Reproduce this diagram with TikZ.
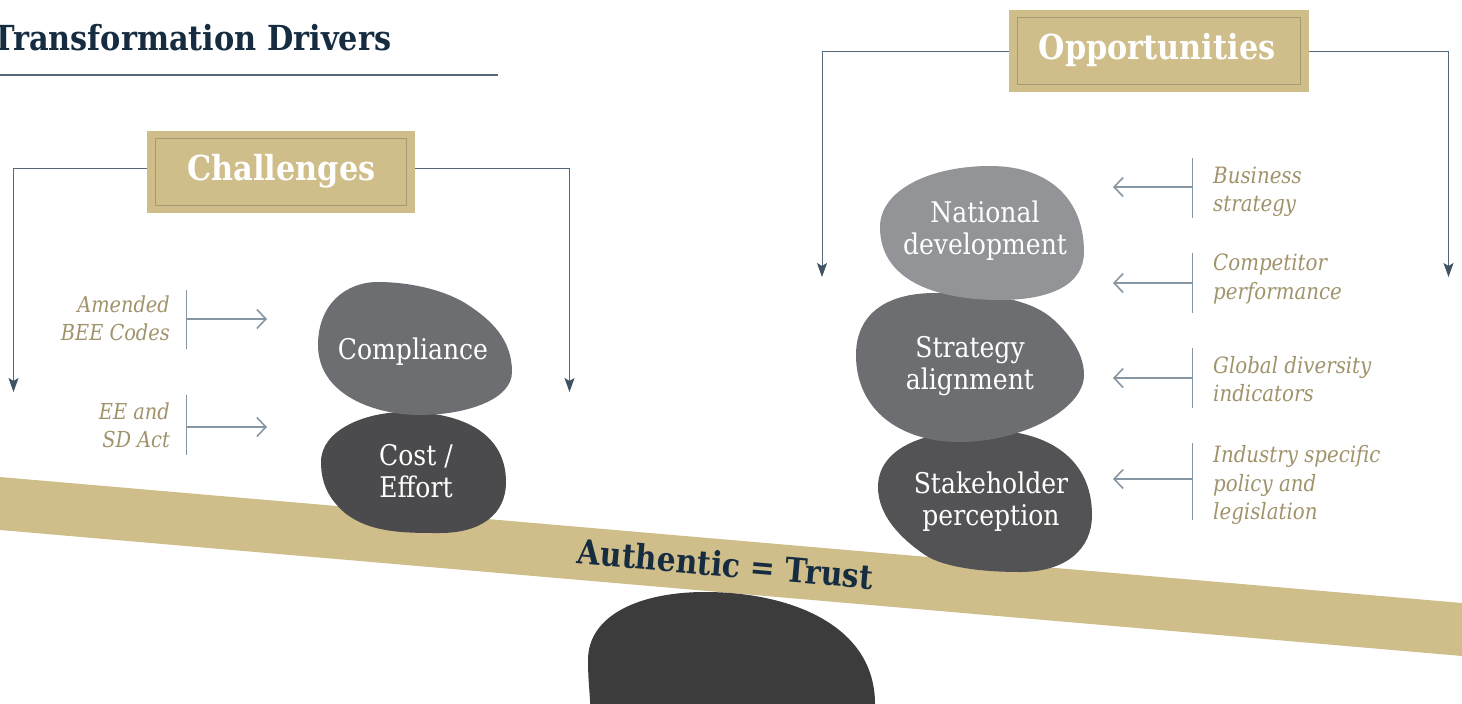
\documentclass[tikz,border=0pt]{standalone}
\usepackage{fontspec}
\setmainfont[FakeStretch=0.88]{DejaVu Serif}
\usetikzlibrary{arrows.meta,calc}
\definecolor{goldtan}{HTML}{CFBD8A}
\definecolor{tanframe}{HTML}{A59A74}
\definecolor{tantext}{HTML}{A0936B}
\definecolor{navy}{HTML}{162C40}
\definecolor{slate}{HTML}{55677A}
\definecolor{arrowtip}{HTML}{3F5363}
\definecolor{steel}{HTML}{8796A3}
\definecolor{rockA}{HTML}{6D6E71}
\definecolor{rockB}{HTML}{4B4B4D}
\definecolor{rockC}{HTML}{929497}
\definecolor{rockD}{HTML}{535355}
\definecolor{rockE}{HTML}{3C3C3C}
\tikzset{
  x=1pt,y=-1pt,
  headfont/.style={font=\fontsize{34.5}{40}\selectfont\bfseries},
  tanbox/.style={fill=goldtan,inner sep=0pt},
  innerframe/.style={draw=tanframe,line width=1pt},
  branch/.style={draw=slate,line width=1pt,-{Stealth[length=14pt,width=10pt,inset=3pt,color=arrowtip]}},
  tickmark/.style={draw=steel,line width=1.6pt},
  pointer/.style={draw=steel,line width=1.8pt,-{Straight Barb[length=9pt,width=19pt,line width=1.6pt]}},
  blobtext/.style={text=white,align=center,font=\fontsize{28.5}{32}\selectfont,inner sep=0pt},
  sideL/.style={text=tantext,align=right,font=\fontsize{22}{28}\selectfont\itshape,inner sep=0pt},
  sideR/.style={text=tantext,align=left,font=\fontsize{22.5}{28.3}\selectfont\itshape,inner sep=0pt},
}
\begin{document}
\begin{tikzpicture}
\useasboundingbox (0,0) rectangle (1462,704);
\clip (0,0) rectangle (1462,704);
% title
\node[anchor=base east,text=navy,headfont,inner sep=0pt] (title) at (391.5,50) {Transformation Drivers};
\coordinate (ruleA) at (0,74.5);
\coordinate (ruleB) at (498,74.5);
\draw[slate,line width=2pt] (ruleA) -- (ruleB);
% beam
\fill[goldtan] (0,477) -- (1462,603) -- (1462,656) -- (0,530) -- cycle;
\node[rotate=-4.93,text=navy,font=\fontsize{33.7}{40}\selectfont\bfseries,inner sep=0pt] (beam) at (725.5,564) {Authentic = Trust};
% base rock
\fill[rockE] (588,660) .. controls (588,615) and (640,592) .. (705,592)
  .. controls (790,592) and (875,625) .. (875,704) -- (875,740) -- (590,740) -- (590,700)
  .. controls (589,685) and (588,675) .. (588,660) -- cycle;
% left stack
\fill[rockB] (321,462) .. controls (321,430) and (365,412) .. (405,412)
  .. controls (465,412) and (506,435) .. (506,482)
  .. controls (506,515) and (480,533) .. (440,533)
  .. controls (405,533) and (370,533) .. (345,513)
  .. controls (330,500) and (321,485) .. (321,462) -- cycle;
\fill[rockA] (318,345) .. controls (318,305) and (345,282) .. (378,282)
  .. controls (405,282) and (440,288) .. (465,303)
  .. controls (492,320) and (512,340) .. (512,372)
  .. controls (512,400) and (465,415) .. (420,415)
  .. controls (375,415) and (318,395) .. (318,345) -- cycle;
% right stack
\fill[rockD] (878,487) .. controls (878,450) and (920,430) .. (985,430)
  .. controls (1050,430) and (1092,460) .. (1092,515)
  .. controls (1092,550) and (1065,572) .. (1020,572)
  .. controls (985,572) and (945,568) .. (925,555)
  .. controls (900,538) and (878,515) .. (878,487) -- cycle;
\fill[rockA] (856,355) .. controls (856,315) and (885,293) .. (935,293)
  .. controls (995,293) and (1032,300) .. (1054,320)
  .. controls (1072,337) and (1084,355) .. (1084,375)
  .. controls (1084,410) and (1020,442) .. (960,442)
  .. controls (900,442) and (856,410) .. (856,355) -- cycle;
\fill[rockC] (880,227) .. controls (880,190) and (930,166) .. (990,166)
  .. controls (1050,166) and (1084,200) .. (1084,252)
  .. controls (1084,285) and (1050,300) .. (1000,300)
  .. controls (945,300) and (880,285) .. (880,227) -- cycle;
% rock labels
\node[blobtext] (comp) at (413,352) {Compliance};
\node[blobtext] (cost) at (416,471) {Cost /\\Effort};
\node[blobtext] (natl) at (985,231) {National\\development};
\node[blobtext] (strat) at (970,366) {Strategy\\alignment};
\node[blobtext] (stake) at (991,502) {Stakeholder\\perception};
% header boxes
\node[tanbox,minimum width=268pt,minimum height=82pt] (chal) at (281,172) {};
\node[text=white,headfont,inner sep=0pt] (chalT) at (281.5,171.5) {Challenges};
\draw[innerframe] ([xshift=8.5pt,yshift=-7.5pt]chal.north west) rectangle ([xshift=-8.5pt,yshift=7.5pt]chal.south east);
\node[tanbox,minimum width=300pt,minimum height=82pt] (opp) at (1159,51) {};
\node[text=white,headfont,inner sep=0pt] (oppT) at (1157,50) {Opportunities};
\draw[innerframe] ([xshift=8.5pt,yshift=-7.5pt]opp.north west) rectangle ([xshift=-8.5pt,yshift=7.5pt]opp.south east);
% branches
\coordinate (chalL) at (13.5,392);
\coordinate (chalR) at (569.5,392);
\coordinate (oppL) at (822,277);
\coordinate (oppR) at (1448.5,277);
\draw[branch] ([yshift=3.5pt]chal.west) -| (chalL);
\draw[branch] ([yshift=3.5pt]chal.east) -| (chalR);
\draw[branch] (opp.west) -| (oppL);
\draw[branch] (opp.east) -| (oppR);
% left side items
\node[sideL,anchor=east] (amend) at (170,318.5) {Amended\\BEE Codes};
\node[sideL,anchor=east] (eesd) at (170,425) {EE and\\SD Act};
\coordinate (tA1) at (186.5,290); \coordinate (tA2) at (186.5,349);
\coordinate (tB1) at (186.5,395); \coordinate (tB2) at (186.5,455);
\coordinate (aA0) at (186.5,319); \coordinate (aA1) at (267,319);
\coordinate (aB0) at (186.5,427); \coordinate (aB1) at (267,427);
\draw[tickmark] (tA1) -- (tA2);
\draw[tickmark] (tB1) -- (tB2);
\draw[pointer] (aA0) -- (aA1);
\draw[pointer] (aB0) -- (aB1);
% right side items
\node[sideR,anchor=west] (biz) at (1213,191.5) {Business\\strategy};
\node[sideR,anchor=west] (compet) at (1213,279) {Competitor\\performance};
\node[sideR,anchor=west] (glob) at (1213,379) {Global diversity\\indicators};
\node[sideR,anchor=west] (indu) at (1213,485) {Industry specific\\policy and\\legislation};
\foreach \n/\a/\b/\c in {p/158/218/187,q/253/313/283,r/348/408/378,s/443/520/479}{
  \coordinate (\n1) at (1192.5,\a);
  \coordinate (\n2) at (1192.5,\b);
  \coordinate (\n3) at (1192.5,\c);
  \coordinate (\n4) at (1113,\c);
  \draw[tickmark] (\n1) -- (\n2);
  \draw[pointer] (\n3) -- (\n4);
}
\end{tikzpicture}
\end{document}
